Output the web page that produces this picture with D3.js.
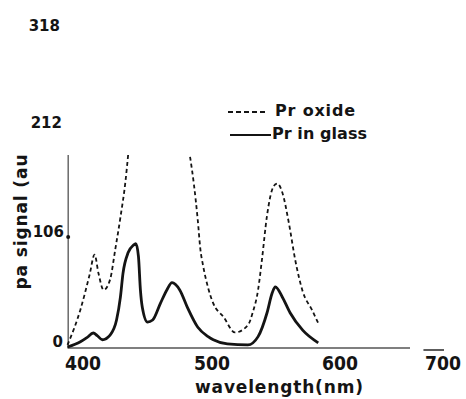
<!DOCTYPE html>
<html><head><meta charset="utf-8">
<script src="https://cdn.jsdelivr.net/npm/d3@7"></script>
<style>body{margin:0;background:#fff}svg{display:block}</style>
</head><body><svg id="c" width="466" height="399"></svg>
<script>
const wavelengthTicks = [400, 500, 600, 700];
const signalTicks = [0, 106, 212, 318];
const seriesNames = ["Pr oxide", "Pr in glass"];
const xLabel = "wavelength(nm)";
const yLabel = "pa signal (au";

// Pr oxide (dashed) — goes off scale between ~435 and ~483 nm (null = off chart)
const oxideWavelength = [388, 398, 405, 409, 412, 416, 421, 425, 429, 433, 435, 460, 483, 486, 489, 491, 493, 497, 501, 509, 518, 528, 532, 536, 539, 543, 548, 551, 555, 560, 565, 571, 578, 583];
const oxideSignal     = [2, 36, 69, 89, 71, 55, 65, 94, 125, 161, 186, null, 184, 157, 122, 94, 79, 57, 42, 29, 14, 21, 34, 55, 84, 127, 155, 158, 149, 120, 84, 53, 36, 23];

// Pr in glass (solid)
const glassWavelength = [388, 398, 403, 408, 411, 415, 421, 426, 429, 431, 435, 439, 441, 443, 444.5, 446, 450, 454, 460, 465, 469, 475, 481, 489, 497, 501, 512, 528, 536, 543, 547, 549.5, 555, 561, 571, 583];
const glassSignal     = [0, 5, 9, 13.5, 11, 7, 11.5, 26, 48, 71, 91, 98, 99.5, 87, 55, 38, 24, 26, 42, 55, 62, 55, 38, 19, 10, 7, 3, 2, 10, 33, 52, 58, 48, 33, 16, 4];

const svg = d3.select("#c");
const ink = "#141414";
const font = "'DejaVu Sans', sans-serif";

const x = d3.scaleLinear().domain(wavelengthTicks).range([83, 212, 340, 443]);
const y = d3.scaleLinear().domain(signalTicks).range([347, 237, 128, 31]);

svg.append("defs").append("clipPath").attr("id", "clip")
  .append("rect").attr("x", 60).attr("y", y(185.7)).attr("width", 400).attr("height", 200);

// axes lines
svg.append("line").attr("x1", x(388)).attr("x2", x(668)).attr("y1", y(0) + 1).attr("y2", y(0) + 1)
  .attr("stroke", "#555").attr("stroke-width", 1.6);
svg.append("line").attr("x1", x(681)).attr("x2", x(701)).attr("y1", y(0) + 3).attr("y2", y(0) + 3)
  .attr("stroke", "#333").attr("stroke-width", 1.6);
svg.append("line").attr("x1", x(388.5)).attr("x2", x(388.5)).attr("y1", y(185.7)).attr("y2", y(0) + 1)
  .attr("stroke", "#444").attr("stroke-width", 1.2);
svg.append("circle").attr("cx", x(388.5)).attr("cy", y(106)).attr("r", 2).attr("fill", ink);

// x tick labels
svg.append("g").selectAll("text").data(wavelengthTicks).join("text")
  .attr("x", d => x(d)).attr("y", 370).attr("text-anchor", "middle")
  .attr("font-family", font).attr("font-weight", "bold").attr("font-size", 19)
  .attr("textLength", 36).attr("lengthAdjust", "spacingAndGlyphs")
  .attr("fill", ink).text(d => d);

// y tick labels
svg.append("g").selectAll("text").data(signalTicks).join("text")
  .attr("x", (d, i) => [63, 64, 62, 60][i]).attr("y", d => y(d)).attr("text-anchor", "end")
  .attr("font-family", font).attr("font-weight", "bold").attr("font-size", 15)
  .attr("fill", ink).text(d => d);

// axis titles
svg.append("text").attr("x", 279).attr("y", 393).attr("text-anchor", "middle")
  .attr("font-family", font).attr("font-weight", "bold").attr("font-size", 17)
  .attr("textLength", 168).attr("lengthAdjust", "spacing")
  .attr("fill", ink).text(xLabel);
svg.append("text").attr("transform", "translate(27,222) rotate(-90)").attr("text-anchor", "middle")
  .attr("font-family", font).attr("font-weight", "bold").attr("font-size", 17)
  .attr("textLength", 135).attr("lengthAdjust", "spacing")
  .attr("fill", ink).text(yLabel);

// curves
const oxide = oxideWavelength.map((w, i) => [w, oxideSignal[i]]);
const glass = glassWavelength.map((w, i) => [w, glassSignal[i]]);
const line = d3.line().defined(d => d[1] != null).x(d => x(d[0])).y(d => y(d[1])).curve(d3.curveMonotoneX);

const plot = svg.append("g").attr("clip-path", "url(#clip)");
plot.append("path").attr("d", line(oxide)).attr("fill", "none").attr("stroke", ink)
  .attr("stroke-width", 1.8).attr("stroke-dasharray", "4,3");
plot.append("path").attr("d", line(glass)).attr("fill", "none").attr("stroke", ink)
  .attr("stroke-width", 2.8).attr("stroke-linejoin", "round");

// legend
const leg = svg.append("g");
leg.append("line").attr("x1", 228).attr("x2", 268).attr("y1", 112).attr("y2", 112)
  .attr("stroke", ink).attr("stroke-width", 2).attr("stroke-dasharray", "5,3");
leg.append("line").attr("x1", 230).attr("x2", 271).attr("y1", 135).attr("y2", 135)
  .attr("stroke", ink).attr("stroke-width", 2);
leg.append("text").attr("x", 275).attr("y", 116)
  .attr("font-family", font).attr("font-weight", "bold").attr("font-size", 16)
  .attr("textLength", 80).attr("lengthAdjust", "spacing").attr("fill", ink).text(seriesNames[0]);
leg.append("text").attr("x", 272).attr("y", 139)
  .attr("font-family", font).attr("font-weight", "bold").attr("font-size", 16)
  .attr("textLength", 95).attr("lengthAdjust", "spacing").attr("fill", ink).text(seriesNames[1]);
</script></body></html>
